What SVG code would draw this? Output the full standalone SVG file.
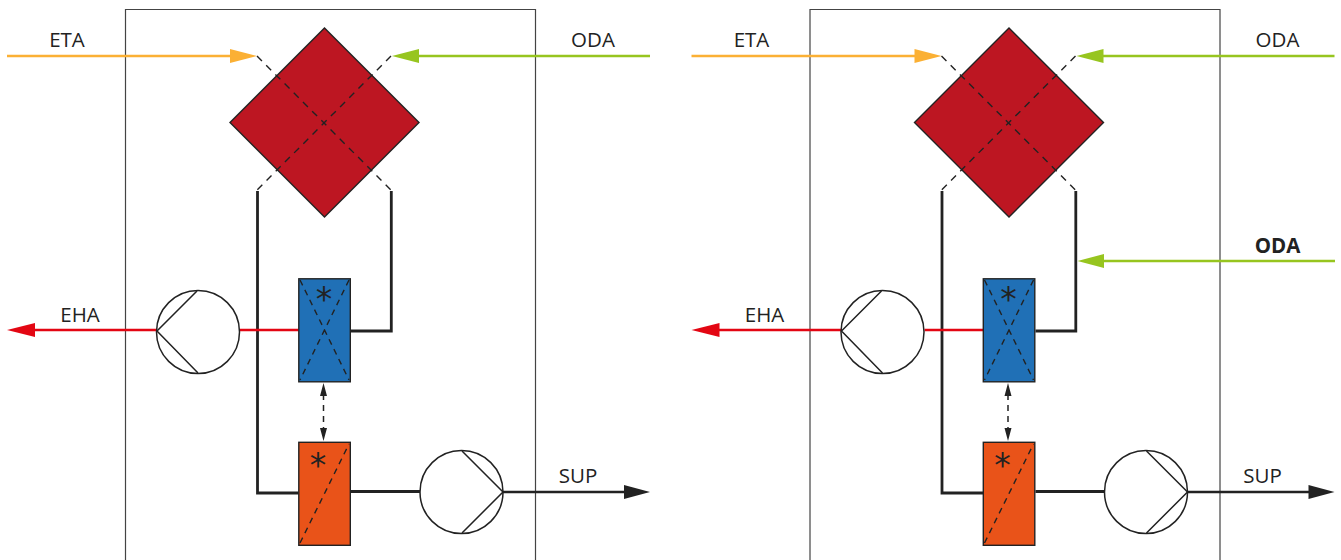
<svg xmlns="http://www.w3.org/2000/svg" width="1341" height="560" viewBox="0 0 1341 560">
<style>
.frame{fill:none;stroke:#444;stroke-width:1.2}
.l{font-family:"Open Sans","Liberation Sans",sans-serif;font-size:20.500px;fill:#222;text-anchor:middle}
.b{font-weight:700}
.star{font-family:"DejaVu Sans",sans-serif;font-size:33px;fill:#222;text-anchor:middle}
.eq{stroke:#222;stroke-width:1.4;stroke-linejoin:miter}
.dash{fill:none;stroke:#222;stroke-width:1.4;stroke-dasharray:7 6}
.thin{fill:none;stroke:#222;stroke-width:1.5}
.pump{fill:#fff;stroke:#222;stroke-width:1.5}
.k{fill:none;stroke:#222;stroke-width:2.800}
.eta{stroke:#fbb034;stroke-width:2.600;fill:none}
.oda{stroke:#97c51f;stroke-width:2.600;fill:none}
.eha{stroke:#e30613;stroke-width:2.600;fill:none}
.sup{stroke:#222;stroke-width:2.600;fill:none}
</style>
<defs>
<g id="panel">
<path class="frame" d="M125.500 560V9.500H535.500V560"/>
<g id="hx"><path class="eq" fill="#bd1622" d="M324.500 28 419 122.500 324.500 217 230 122.500Z"/>
<path class="dash" d="M257 56 391 190M391 56 257 190"/></g>
<g id="connectors">
<path class="k" d="M257.500 191V493H298.500"/>
<path class="k" d="M391.300 191V331H351"/>
<path class="k" d="M351 491.500H420"/>
<path class="eta" d="M7 56H232"/><path fill="#fbb034" d="M230 49 257 56 230 63Z"/>
<path class="oda" d="M650 56H417"/><path fill="#97c51f" d="M419 49 392 56 419 63Z"/>
<path class="eha" d="M33 330H157M240 330H298.500"/><path fill="#e30613" d="M35 323 7 330 35 337Z"/>
<path class="sup" d="M503 492H626"/><path fill="#222" d="M624 485 650 492 624 499Z"/>
<path fill="none" stroke="#222" stroke-width="1.500" stroke-dasharray="6 5" d="M323.500 394V430"/>
<path fill="#222" d="M323.500 383 327 396H320ZM323.500 441 320 428H327Z"/>
</g>
<g id="pump1"><circle class="pump" cx="198" cy="332" r="41.500"/><path class="thin" d="M197 291 157 331 198 373"/></g>
<g id="pump2"><circle class="pump" cx="461.500" cy="492" r="41.500"/><path class="thin" d="M462 451 503 492 462 533"/></g>
<g id="heater"><rect class="eq" fill="#2070b6" x="298.800" y="278.800" width="51.500" height="103"/>
<path class="dash" style="stroke-dasharray:6 5" d="M300 280 349 380M349 280 300 380"/>
<text class="star" x="324" y="311">*</text></g>
<g id="cooler"><rect class="eq" fill="#e95319" x="298.800" y="442.300" width="51.500" height="103"/>
<path class="dash" style="stroke-dasharray:6 5" d="M300 543 349 444"/>
<text class="star" x="318" y="477">*</text></g>
<text class="l" x="67" y="47">ETA</text>
<text class="l" x="593" y="47">ODA</text>
<text class="l" x="80" y="322">EHA</text>
<text class="l" x="578" y="483">SUP</text>
</g>
</defs>
<use href="#panel"/>
<use href="#panel" x="684.500"/>
<g id="oda-extra">
<path class="oda" d="M1335 261H1102"/><path fill="#97c51f" d="M1104 254 1077.500 261 1104 268Z"/>
<text class="l b" x="1277.500" y="253">ODA</text>
</g>
</svg>
